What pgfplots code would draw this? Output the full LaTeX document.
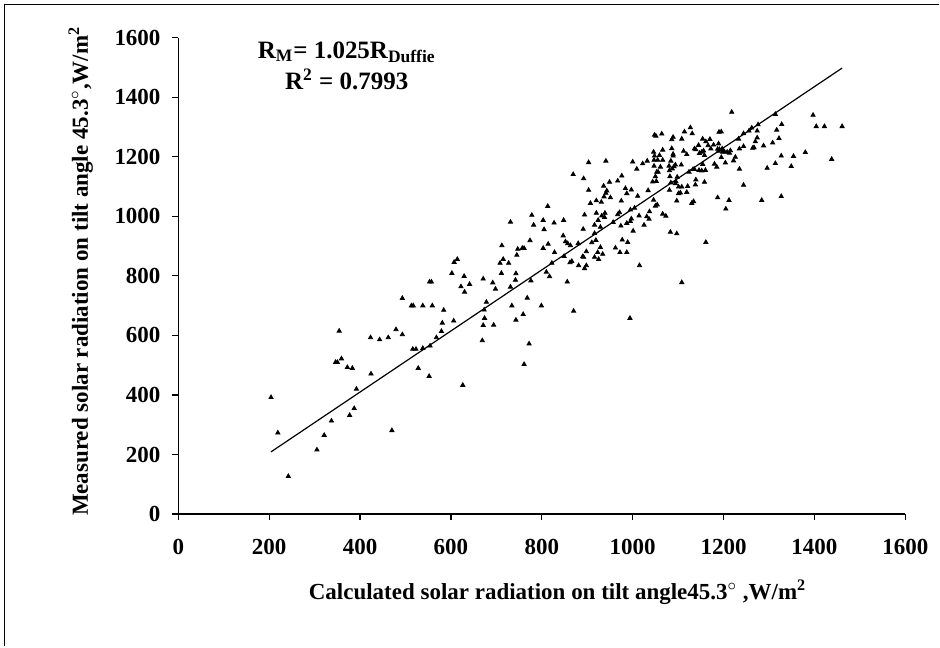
\documentclass[border=0pt]{standalone}
\usepackage{fontspec}
\setmainfont{Liberation Serif}
\usepackage{pgfplots}
\pgfplotsset{compat=1.18}
\begin{document}
\begin{tikzpicture}
\path (-89.25pt,-66.25pt) rectangle (380.75pt,257.25pt);
\begin{axis}[
  name=ax, at={(0,0)}, anchor=south west,
  scale only axis, width=363.75pt, height=238.4pt,
  xmin=0, xmax=1600, ymin=0, ymax=1600,
  xtick={0,200,...,1600}, ytick={0,200,...,1600},
  axis lines*=left, axis line style={-, line width=0.6pt},
  tick align=outside, major tick length=3pt, tick style={line width=0.6pt, black},
  /pgf/number format/assume math mode=true,
  /pgf/number format/1000 sep={},
  ticklabel style={font=\fontsize{11.5}{13}\selectfont\bfseries},
  xticklabel style={anchor=north, inner sep=0pt, yshift=-9.5pt},
  yticklabel style={anchor=east, inner sep=0pt, xshift=-5.75pt},
  clip=false,
]
\addplot[only marks, mark=triangle*, mark size=1.2pt, black] table {
x y
204 392
219 273
242 127
305 216
321 265
337 313
354 615
346 510
350 510
359 522
372 493
383 490
377 332
387 355
392 420
424 471
423 593
443 586
462 593
470 281
479 620
493 603
493 725
513 700
517 700
538 700
559 700
528 490
552 463
516 554
523 554
538 557
554 565
568 593
579 614
581 642
584 685
606 649
626 433
553 780
557 780
602 809
607 846
614 856
629 799
622 764
630 746
641 772
671 790
692 777
698 756
678 712
673 686
674 658
671 634
669 583
694 635
731 981
712 902
715 856
708 843
727 843
711 809
731 763
734 700
743 652
742 786
743 808
745 870
747 890
757 893
761 893
778 1004
782 971
774 919
776 784
768 726
759 671
772 572
761 503
799 700
813 1034
803 987
805 956
803 893
814 907
827 978
828 879
822 843
810 813
817 798
848 987
847 935
852 915
857 909
863 902
849 866
862 845
866 849
856 780
870 682
881 835
880 909
894 1005
891 957
890 865
892 863
898 882
898 835
894 825
907 1044
920 1053
931 1048
920 1011
939 1011
938 997
932 1002
924 987
916 971
929 964
916 943
919 920
910 912
929 896
923 879
934 873
916 863
925 856
957 980
967 1006
971 1013
975 1052
974 968
962 894
977 921
972 879
987 879
989 913
987 977
995 983
997 992
995 1022
1004 1028
1001 951
1015 835
994 658
1014 1002
1025 971
1031 999
1037 1016
1036 991
1046 1055
1050 1035
1054 1039
1066 1008
1073 1001
1083 947
1097 942
1097 1052
1108 778
1218 1350
1314 1343
1397 1340
1404 1302
1422 1302
1461 1302
1438 1192
1380 1215
1354 1202
1349 1168
1327 1203
1327 1067
1314 1178
1322 1262
1317 1290
1328 1309
1308 1247
1296 1162
1288 1237
1284 1054
1276 1308
1274 1287
1274 1264
1270 1251
1267 1231
1264 1229
1262 1297
1256 1287
1244 1278
1233 1260
1235 1227
1244 1235
1226 1199
1222 1187
1235 1159
1244 1105
1212 1054
1205 1025
1187 1063
1204 1180
1215 1221
1213 1213
1208 1216
1202 1217
1198 1216
1195 1198
1185 1166
1180 1176
1197 1227
1189 1219
1187 1226
1191 1225
1189 1244
1178 1240
1170 1259
1172 1227
1161 1251
1166 1238
1154 1260
1145 1239
1136 1227
1139 1224
1156 1220
1152 1216
1147 1212
1158 1205
1154 1175
1160 1155
1152 1153
1146 1155
1136 1158
1133 1158
1124 1149
1139 1123
1138 1106
1158 1115
1121 1101
1108 1099
1119 1081
1105 1079
1134 1050
1130 1044
1161 913
1127 1298
1114 1284
1131 1278
1190 1283
1195 1284
1108 1260
1112 1219
1119 1208
869 1141
892 1127
903 1181
903 1088
941 1186
976 1136
949 1115
936 1102
943 1086
941 1078
937 1066
951 1063
967 1119
984 1094
997 1089
987 1077
1000 1183
1009 1159
1022 1177
1032 1186
1011 1068
1034 1087
1044 1116
1052 1118
1050 1134
1056 1149
1053 1149
1047 1169
1047 1189
1048 1203
1046 1216
1055 1189
1061 1166
1066 1189
1066 1223
1059 1205
1048 1273
1051 1270
1064 1277
1082 1134
1081 1154
1080 1169
1084 1186
1089 1203
1089 1209
1086 1228
1089 1266
1086 1258
1094 1173
1091 1167
1087 1160
1098 1132
1084 1113
1095 1117
1094 1110
1101 1099
1081 1088
1101 1077
1107 1173
};
\addplot[black, line width=0.6pt] coordinates {(204,209) (1461,1498)};
\end{axis}
\node[anchor=base, font=\fontsize{12.5}{14}\selectfont\bfseries] at (84.25pt,228.1pt) {R\textsubscript{M}= 1.025R\textsubscript{Duffie}};
\node[anchor=base, font=\fontsize{12.5}{14}\selectfont\bfseries] at (84.25pt,212.5pt) {R\textsuperscript{2} = 0.7993};
\node[anchor=base, font=\fontsize{11.5}{13}\selectfont\bfseries] at (189.75pt,-42.75pt) {Calculated solar radiation on tilt angle45.3$^\circ$ ,W/m\textsuperscript{2}};
\node[anchor=base, rotate=90, font=\fontsize{11.5}{13}\selectfont\bfseries] at (-45.25pt,121.5pt) {Measured solar radiation on tilt angle 45.3$^\circ$,W/m\textsuperscript{2}};
\draw[line width=0.75pt] (-87pt,-66.25pt) -- (-87pt,255pt) -- (380.75pt,255pt);
\end{tikzpicture}
\end{document}
